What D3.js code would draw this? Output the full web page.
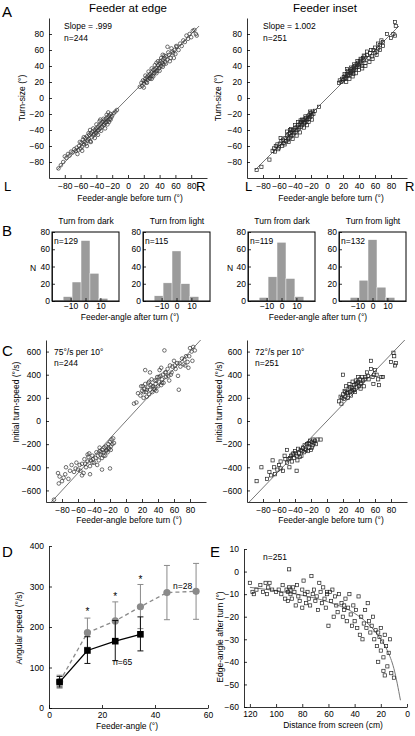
<!DOCTYPE html>
<html><head><meta charset="utf-8">
<script src="https://cdn.jsdelivr.net/npm/d3@7"></script>
<style>body{margin:0;background:#fff}svg{display:block;font-family:"Liberation Sans",Arial,Helvetica,sans-serif}</style>
</head><body>
<script>
// ---------- DATA ----------
const angleTicks = [-80,-60,-40,-20,0,20,40,60,80];
const speedTicks = [-600,-400,-200,0,200,400,600];
// Panel A: feeder-angle before turn vs turn-size
const aEdge = [[-88,-88],[-85,-84],[-82,-80],[-80,-73],[-78,-75],[-76,-70],[-74,-72],[-72,-67],[-70,-68],[-68,-64],[-66,-66],[-65,-62],[-63,-65],[-62,-60],[-60,-63],[-59,-56],[-58,-61],[-57,-52],[-56,-58],[-55,-55],[-54,-50],[-53,-57],[-52,-48],[-51,-53],[-50,-51],[-49,-46],[-48,-54],[-47,-44],[-46,-49],[-45,-42],[-44,-47],[-43,-45],[-42,-40],[-41,-43],[-40,-38],[-40,-44],[-39,-41],[-38,-36],[-37,-40],[-36,-34],[-35,-38],[-34,-32],[-33,-36],[-32,-30],[-31,-34],[-30,-28],[-30,-33],[-29,-31],[-28,-26],[-27,-30],[-26,-24],[-25,-28],[-24,-22],[-23,-26],[-22,-20],[-21,-24],[-20,-22],[-18,-19],[-16,-17],[-14,-15],
[-64,-70],[-58,-66],[-56,-49],[-52,-60],[-50,-44],[-47,-55],[-44,-38],[-42,-50],[-40,-33],[-38,-46],[-36,-29],[-34,-41],[-31,-26],[-29,-38],[-27,-21],[-26,-33],[-24,-30],[-22,-27],[-48,-40],[-61,-55],[-35,-27],[-25,-18],
[15,14],[17,19],[18,15],[19,22],[20,18],[21,21],[22,24],[23,20],[24,26],[25,23],[26,28],[27,25],[28,30],[29,27],[30,32],[31,28],[32,35],[33,31],[34,36],[35,33],[36,38],[37,34],[38,41],[39,37],[40,43],[40,38],[41,46],[42,40],[43,44],[44,48],[45,42],[46,50],[47,45],[48,52],[50,48],[52,54],[54,50],[55,62],[57,56],[59,60],[60,55],[62,64],[64,60],[66,68],[68,65],[70,72],[72,70],[74,78],[76,74],[78,80],[80,76],[82,84],[84,85],[86,80],[87,78],
[20,13],[22,28],[24,19],[26,33],[28,24],[30,37],[32,27],[34,41],[36,31],[38,46],[40,34],[42,50],[44,39],[46,53],[48,43],[51,57],[53,46],[56,58],[58,50],[61,65],[50,64],[44,54],[36,44],[30,24]];
const aInset = [[-88,-90],[-82,-86],[-72,-77],[-68,-66],[-66,-63],[-64,-60],[-62,-58],[-60,-62],[-59,-57],[-57,-54],[-56,-60],[-55,-52],[-54,-56],[-52,-50],[-51,-54],[-50,-47],[-49,-52],[-48,-45],[-47,-50],[-46,-44],[-45,-48],[-44,-42],[-43,-46],[-42,-40],[-41,-44],[-40,-38],[-39,-42],[-38,-36],[-37,-40],[-36,-34],[-35,-38],[-34,-32],[-33,-36],[-32,-30],[-31,-34],[-30,-28],[-29,-32],[-28,-27],[-27,-30],[-26,-25],[-25,-28],[-24,-23],[-23,-26],[-22,-21],[-21,-24],[-20,-19],[-19,-22],[-18,-17],[-17,-20],[-15,-16],[-10,-11],
[-65,-67],[-61,-64],[-58,-50],[-53,-58],[-50,-42],[-48,-55],[-45,-39],[-43,-51],[-40,-34],[-38,-47],[-36,-30],[-34,-43],[-31,-27],[-29,-37],[-27,-23],[-25,-34],[-23,-30],[-21,-17],[-19,-27],[-46,-40],[-33,-28],[-28,-31],
[15,19],[16,22],[18,20],[19,24],[20,22],[21,26],[22,24],[23,28],[24,25],[25,30],[26,28],[27,32],[28,29],[29,34],[30,31],[31,36],[32,33],[33,38],[34,35],[35,40],[36,37],[37,42],[38,39],[39,44],[40,41],[41,46],[42,43],[43,48],[44,40],[45,50],[46,47],[47,52],[48,44],[50,54],[52,50],[54,56],[56,52],[58,60],[60,56],[62,58],[64,62],[66,66],[68,72],[70,70],[75,80],[80,75],[83,80],[85,78],[86,90],[85,95],
[22,30],[24,20],[26,34],[28,24],[30,38],[32,27],[34,42],[36,31],[38,46],[40,35],[42,49],[44,37],[46,53],[48,40],[50,58],[53,45],[55,60],[57,49],[60,63],[62,54],[64,68],[66,60],[70,65],[25,36],[33,30]];
// Panel B: histograms of feeder-angle after turn
const histBins = [-18,-12,-6,0,6,12];
const histEdgeDark  = [1,5,22,70,32,3];
const histEdgeLight = [0,6,21,58,20,5];
const histInsetDark = [1,4,28,68,26,5];
const histInsetLight= [0,4,24,71,16,4];
const histN = ["n=129","n=115","n=119","n=132"];
// Panel C: feeder-angle before turn vs initial turn speed
const cEdge = [[-90,-680],[-85,-450],[-83,-480],[-80,-520],[-78,-490],[-75,-400],[-72,-500],[-70,-430],[-65,-440],[-62,-360],[-60,-420],[-58,-380],[-55,-370],[-53,-450],[-52,-330],[-50,-400],[-48,-350],[-47,-310],[-45,-390],[-44,-340],[-42,-300],[-40,-360],[-38,-320],[-37,-270],[-35,-300],[-34,-340],[-33,-260],[-32,-290],[-30,-320],[-29,-250],[-28,-270],[-27,-230],[-26,-300],[-25,-220],[-24,-250],[-23,-270],[-22,-200],[-21,-240],[-20,-180],[-19,-220],[-18,-160],[-17,-200],[-16,-150],[-20,-410],[-30,-420],[-45,-460],[-55,-470],
[-84,-540],[-76,-460],[-68,-380],[-63,-410],[-57,-430],[-51,-370],[-46,-280],[-41,-330],[-36,-380],[-31,-270],[-28,-300],[-25,-260],[-22,-230],[-19,-250],[-15,-190],[-33,-230],[-42,-360],[-48,-290],
[10,150],[13,160],[15,240],[18,220],[20,260],[21,300],[22,200],[23,280],[24,320],[25,250],[26,210],[27,290],[28,330],[29,230],[30,270],[31,310],[32,360],[33,250],[34,300],[35,280],[36,350],[37,320],[38,260],[39,380],[40,300],[41,340],[42,440],[43,390],[44,310],[45,360],[46,400],[47,330],[48,610],[49,420],[50,380],[52,450],[54,350],[55,480],[56,400],[58,470],[60,520],[62,450],[64,500],[65,390],[66,270],[68,470],[70,540],[72,490],[74,480],[75,560],[77,510],[78,460],[80,630],[82,600],[84,640],[86,610],[24,440],[30,420],[44,460],
[19,300],[22,250],[26,270],[29,340],[33,300],[36,270],[38,350],[41,380],[45,330],[50,420],[53,390],[57,420],[61,480],[67,500],[73,530],[79,560],[83,520]];
const cInset = [[-88,-520],[-82,-400],[-75,-500],[-72,-440],[-70,-470],[-68,-340],[-65,-460],[-62,-420],[-60,-380],[-58,-350],[-55,-430],[-53,-300],[-50,-360],[-48,-330],[-47,-400],[-45,-300],[-44,-350],[-42,-280],[-41,-320],[-40,-260],[-38,-300],[-37,-340],[-36,-240],[-35,-280],[-33,-250],[-32,-300],[-30,-230],[-29,-270],[-28,-210],[-27,-240],[-25,-200],[-24,-260],[-23,-190],[-22,-230],[-21,-170],[-20,-250],[-19,-180],[-18,-210],[-17,-160],[-16,-190],[-12,-160],[-14,-200],[-50,-250],[-38,-430],[-8,-160],
[-66,-400],[-58,-410],[-52,-330],[-46,-320],[-43,-290],[-39,-280],[-34,-310],[-31,-260],[-26,-250],[-22,-200],[-19,-230],[-15,-170],
[15,170],[17,210],[18,150],[20,230],[21,190],[22,260],[23,210],[24,300],[25,240],[26,200],[27,280],[28,320],[29,250],[30,220],[31,290],[32,340],[33,270],[34,310],[35,250],[36,350],[37,290],[38,330],[39,380],[40,300],[41,360],[42,280],[43,330],[44,380],[45,350],[46,300],[48,380],[50,420],[52,360],[55,450],[57,380],[58,320],[60,440],[62,400],[64,360],[65,310],[68,380],[70,380],[83,590],[84,560],[86,500],[85,480],[80,510],[20,400],[55,520],
[19,200],[23,250],[26,240],[29,290],[31,260],[34,270],[36,320],[39,340],[42,320],[47,360],[51,390],[59,400]];
// Panel D: feeder-angle vs angular speed
const dAngle = [4,14.5,25,34.5,44.5,55.5];
const dGrayMean = [65,186,215,250,285,288];
const dGrayLow  = [49,150,168,196,218,219];
const dGrayHigh = [81,222,262,305,352,357];
const dBlackAngle = [4,14.5,25,34.5];
const dBlackMean = [64,142,165,182];
const dBlackLow  = [52,110,117,141];
const dBlackHigh = [78,176,216,225];
const dStarAngle = [14.5,25,34.5];
const dStarY = [240,277,318];
// Panel E: distance from screen vs edge-angle after turn
const eInset = [[120,-5],[118,-9],[117,-10],[115,-8],[112,-6],[110,-9],[108,-5],[107,-10],[106,-7],[105,-5],[103,-8],[100,-9],[98,-8],[96,-10],[95,-6],[93,-12],[92,-8],[91,-13],[90,-7],[90,1],[89,-10],[88,-12],[87,-7],[86,-9],[85,-15],[84,-6],[83,-11],[82,-13],[80,-8],[80,-16],[79,-4],[78,-10],[77,-14],[76,-9],[75,-12],[74,-15],[73,-2],[72,-10],[71,-8],[70,-13],[69,-11],[68,-17],[67,-5],[66,-9],[65,-14],[64,-7],[63,-12],[62,-16],[61,-10],[60,-24],[59,-9],[58,-13],[57,-8],[56,-20],[55,-11],[54,-15],[53,-18],[52,-10],[50,-14],[49,-20],[48,-17],[47,-12],[46,-22],[45,-16],[44,-10],[43,-19],[42,-24],[41,-15],[40,-22],[39,-17],[38,-25],[37,-11],[36,-28],[35,-20],[34,-30],[33,-23],[32,-17],[31,-25],[30,-14],[29,-22],[28,-27],[27,-24],[26,-20],[25,-30],[24,-26],[23,-33],[22,-27],[21,-29],[20,-35],[20,-25],[19,-31],[18,-38],[17,-28],[17,-46],[16,-33],[15,-42],[14,-36],[13,-30],[12,-45],[10,-47],[18,-44],[22,-40],[91,-9],[89,-8],[61,-9],[48,-15]];
const eFit = [[120,-7],[100,-8.5],[80,-10.5],[60,-13.5],[40,-18.5],[30,-23],[20,-30],[15,-35],[10,-43],[5,-57]];

// ---------- DRAW ----------
const svg = d3.select("body").append("svg").attr("width",415).attr("height",736);
const TF = 8.5;

function styleAxis(g){
  g.selectAll("path").attr("stroke","#000").attr("stroke-width",0.8);
  g.selectAll("line").attr("stroke","#000").attr("stroke-width",0.8);
  g.selectAll("text").attr("font-size",TF).attr("fill","#000").attr("font-family",null);
}
function text(x,y,s,o={}){
  const t = svg.append("text").attr("x",x).attr("y",y).text(s)
    .attr("font-size",o.size||TF).attr("fill","#000").attr("text-anchor",o.anchor||"start");
  if(o.rotate) t.attr("transform",`rotate(-90,${x},${y})`);
  return t;
}
function drawMarks(g, data, x, y, shape){
  if(shape==="circle"){
    g.selectAll("circle.pt").data(data).join("circle").attr("class","pt")
      .attr("cx",d=>x(d[0])).attr("cy",d=>y(d[1])).attr("r",1.8)
      .attr("fill","none").attr("stroke","#333").attr("stroke-width",0.7);
  } else {
    g.selectAll("rect.pt").data(data).join("rect").attr("class","pt")
      .attr("x",d=>x(d[0])-1.6).attr("y",d=>y(d[1])-1.6).attr("width",3.2).attr("height",3.2)
      .attr("fill","none").attr("stroke","#222").attr("stroke-width",0.7);
  }
}
function scatter(o){
  const x = d3.scaleLinear().domain(o.xd).range([o.l,o.r]);
  const y = d3.scaleLinear().domain(o.yd).range([o.b,o.t]);
  const g = svg.append("g");
  g.append("line").attr("x1",x(o.fit[0][0])).attr("y1",y(o.fit[0][1]))
    .attr("x2",x(o.fit[1][0])).attr("y2",y(o.fit[1][1]))
    .attr("stroke","#777").attr("stroke-width",1);
  drawMarks(g.append("g"), o.data, x, y, o.shape);
  const ax = g.append("g").attr("transform",`translate(0,${o.b})`)
    .call(d3.axisBottom(x).tickValues(o.xt).tickSize(-3).tickSizeOuter(0).tickPadding(5));
  styleAxis(ax);
  const ay = g.append("g").attr("transform",`translate(${o.l},0)`)
    .call(d3.axisLeft(y).tickValues(o.yt).tickSize(-3).tickSizeOuter(0).tickPadding(5));
  styleAxis(ay);
  return {x,y};
}

// Panel letters & titles
text(2,17,"A",{size:15});
text(2,236,"B",{size:15});
text(2,356,"C",{size:15});
text(2,557,"D",{size:15});
text(210,557,"E",{size:15});
text(128,12,"Feeder at edge",{size:11.5,anchor:"middle"});
text(325,12,"Feeder inset",{size:11.5,anchor:"middle"});

// Panel A
const aMid = [-90,90];
scatter({l:49,r:207,t:18,b:178,xd:[-100,100],yd:[-100,100],xt:angleTicks,yt:angleTicks,
  data:aEdge,shape:"circle",fit:[[aMid[0],aMid[0]],[aMid[1],aMid[1]]]});
scatter({l:247,r:407,t:18,b:178,xd:[-100,100],yd:[-100,100],xt:angleTicks,yt:angleTicks,
  data:aInset,shape:"square",fit:[[aMid[0],aMid[0]],[aMid[1],aMid[1]]]});
text(64,29,"Slope = .999");
text(64,41,"n=244");
text(263,29,"Slope = 1.002");
text(263,41,"n=251");
text(25,98,"Turn-size (°)",{rotate:true,anchor:"middle"});
text(221,98,"Turn-size (°)",{rotate:true,anchor:"middle"});
text(130,201,"Feeder-angle before turn (°)",{anchor:"middle"});
text(331,201,"Feeder-angle before turn (°)",{anchor:"middle"});
[["L",4],["R",196],["L",245],["R",405]].forEach(d=>text(d[1],191,d[0],{size:13}));

// Panel B histograms
function hist(l,counts,label){
  const r=l+67, t=232, b=301;
  const x = d3.scaleLinear().domain([-22.5,22.5]).range([l,r]);
  const y = d3.scaleLinear().domain([0,80]).range([b,t]);
  const g = svg.append("g");
  g.selectAll("rect.bar").data(histBins.map((c,i)=>[c,counts[i]])).join("rect").attr("class","bar")
    .attr("x",d=>x(d[0]-3)).attr("width",d=>x(d[0]+3)-x(d[0]-3))
    .attr("y",d=>y(d[1])).attr("height",d=>b-y(d[1]))
    .attr("fill","#9b9b9b").attr("stroke","#fff").attr("stroke-width",0.4);
  const ax = g.append("g").attr("transform",`translate(0,${b})`)
    .call(d3.axisBottom(x).tickValues([-10,0,10]).tickSize(-3).tickSizeOuter(0).tickPadding(2));
  styleAxis(ax);
  const ay = g.append("g").attr("transform",`translate(${l},0)`)
    .call(d3.axisLeft(y).tickValues([0,20,40,60,80]).tickSize(-3).tickSizeOuter(0).tickPadding(2));
  styleAxis(ay);
  g.append("rect").attr("x",l).attr("y",t).attr("width",r-l).attr("height",b-t)
    .attr("fill","none").attr("stroke","#000").attr("stroke-width",1);
  text(l+2,244,label);
}
hist(52,histEdgeDark,histN[0]);
hist(143,histEdgeLight,histN[1]);
hist(248,histInsetDark,histN[2]);
hist(339,histInsetLight,histN[3]);
text(86,224,"Turn from dark",{anchor:"middle"});
text(177,224,"Turn from light",{anchor:"middle"});
text(282,224,"Turn from dark",{anchor:"middle"});
text(373,224,"Turn from light",{anchor:"middle"});
text(30,271,"N");
text(227,271,"N");
text(130,320,"Feeder-angle after turn (°)",{anchor:"middle"});
text(318,320,"Feeder-angle after turn (°)",{anchor:"middle"});

// Panel C
scatter({l:46,r:206,t:340,b:502,xd:[-100,100],yd:[-700,700],xt:angleTicks,yt:speedTicks,
  data:cEdge,shape:"circle",fit:[[-93.3,-700],[93.3,700]]});
scatter({l:247,r:407,t:340,b:502,xd:[-100,100],yd:[-700,700],xt:angleTicks,yt:speedTicks,
  data:cInset,shape:"square",fit:[[-97.2,-700],[97.2,700]]});
text(54,355,"75°/s per 10°");
text(54,366,"n=244");
text(255,355,"72°/s per 10°");
text(255,366,"n=251");
text(19,402,"Initial turn-speed (°/s)",{rotate:true,anchor:"middle"});
text(222,402,"Initial turn-speed (°/s)",{rotate:true,anchor:"middle"});
text(129,523,"Feeder-angle before turn (°)",{anchor:"middle"});
text(331,523,"Feeder-angle before turn (°)",{anchor:"middle"});

// Panel D
(function(){
  const l=49,r=208,t=546,b=708;
  const x = d3.scaleLinear().domain([0,60]).range([l,r]);
  const y = d3.scaleLinear().domain([0,400]).range([b,t]);
  const g = svg.append("g");
  const gray="#8a8a8a";
  dAngle.forEach((a,i)=>{
    g.append("line").attr("x1",x(a)).attr("x2",x(a)).attr("y1",y(dGrayLow[i])).attr("y2",y(dGrayHigh[i])).attr("stroke",gray).attr("stroke-width",1);
    [dGrayLow[i],dGrayHigh[i]].forEach(v=>g.append("line").attr("x1",x(a)-3).attr("x2",x(a)+3).attr("y1",y(v)).attr("y2",y(v)).attr("stroke",gray).attr("stroke-width",1));
  });
  g.append("path").datum(dAngle.map((a,i)=>[a,dGrayMean[i]]))
    .attr("d",d3.line().x(d=>x(d[0])).y(d=>y(d[1])))
    .attr("fill","none").attr("stroke",gray).attr("stroke-width",1.3).attr("stroke-dasharray","4,3");
  g.selectAll("circle.gm").data(dAngle.map((a,i)=>[a,dGrayMean[i]])).join("circle")
    .attr("cx",d=>x(d[0])).attr("cy",d=>y(d[1])).attr("r",3.6).attr("fill",gray);
  dBlackAngle.forEach((a,i)=>{
    g.append("line").attr("x1",x(a)).attr("x2",x(a)).attr("y1",y(dBlackLow[i])).attr("y2",y(dBlackHigh[i])).attr("stroke","#111").attr("stroke-width",1);
    [dBlackLow[i],dBlackHigh[i]].forEach(v=>g.append("line").attr("x1",x(a)-3).attr("x2",x(a)+3).attr("y1",y(v)).attr("y2",y(v)).attr("stroke","#111").attr("stroke-width",1));
  });
  g.append("path").datum(dBlackAngle.map((a,i)=>[a,dBlackMean[i]]))
    .attr("d",d3.line().x(d=>x(d[0])).y(d=>y(d[1])))
    .attr("fill","none").attr("stroke","#000").attr("stroke-width",1.3);
  g.selectAll("rect.bm").data(dBlackAngle.map((a,i)=>[a,dBlackMean[i]])).join("rect")
    .attr("x",d=>x(d[0])-3.3).attr("y",d=>y(d[1])-3.3).attr("width",6.6).attr("height",6.6).attr("fill","#000");
  dStarAngle.forEach((a,i)=>g.append("text").attr("x",x(a)).attr("y",y(dStarY[i])+4).attr("text-anchor","middle").attr("font-size",10).text("*"));
  const ax = g.append("g").attr("transform",`translate(0,${b})`)
    .call(d3.axisBottom(x).tickValues([0,20,40,60]).tickSize(-3).tickSizeOuter(0).tickPadding(4));
  styleAxis(ax);
  const ay = g.append("g").attr("transform",`translate(${l},0)`)
    .call(d3.axisLeft(y).tickValues([0,100,200,300,400]).tickSize(-3).tickSizeOuter(0).tickPadding(5));
  styleAxis(ay);
  text(173,589,"n=28");
  text(113,665,"n=65");
  text(22,628,"Angular speed (°/s)",{rotate:true,anchor:"middle"});
  text(127,729,"Feeder-angle (°)",{anchor:"middle"});
})();

// Panel E
(function(){
  const l=244,r=407,t=549,b=707;
  const x = d3.scaleLinear().domain([124.5,0]).range([l,r]);
  const y = d3.scaleLinear().domain([-60,10]).range([b,t]);
  const g = svg.append("g");
  g.append("path").datum(eFit).attr("d",d3.line().curve(d3.curveMonotoneX).x(d=>x(d[0])).y(d=>y(d[1])))
    .attr("fill","none").attr("stroke","#777").attr("stroke-width",1);
  drawMarks(g.append("g"), eInset, x, y, "square");
  const ax = g.append("g").attr("transform",`translate(0,${b})`)
    .call(d3.axisBottom(x).tickValues([120,100,80,60,40,20,0]).tickSize(-3).tickSizeOuter(0).tickPadding(4));
  styleAxis(ax);
  const ay = g.append("g").attr("transform",`translate(${l},0)`)
    .call(d3.axisLeft(y).tickValues([-60,-50,-40,-30,-20,-10,0,10]).tickSize(-3).tickSizeOuter(0).tickPadding(5));
  styleAxis(ay);
  text(263,560,"n=251");
  text(223,637,"Edge-angle after turn (°)",{rotate:true,anchor:"middle"});
  text(333,728,"Distance from screen (cm)",{anchor:"middle"});
})();
</script>
</body></html>
